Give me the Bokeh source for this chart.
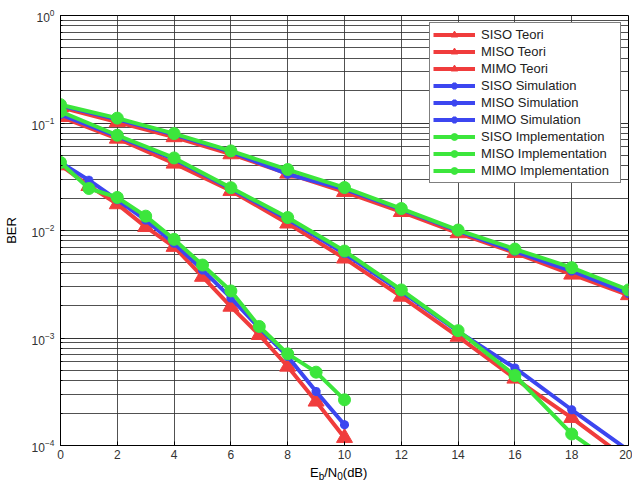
from bokeh.plotting import figure
from bokeh.models import SingleIntervalTicker, LogTicker, Div
from bokeh.layouts import column
from bokeh.embed import file_html
from bokeh.resources import INLINE

# ---------------- data ----------------
snr_even = [0, 2, 4, 6, 8, 10, 12, 14, 16, 18, 20]
snr_mimo = [0, 1, 2, 3, 4, 5, 6, 7, 8, 9, 10]

siso_teori = [0.140, 0.102, 0.074, 0.0513, 0.0339, 0.0229, 0.0149, 0.00946, 0.0062, 0.0039, 0.00251]
miso_teori = [0.114, 0.0717, 0.042, 0.0234, 0.01164, 0.0055, 0.00243, 0.00103, 0.00042, 0.000181, 7.3e-5]
mimo_teori = [0.0405, 0.026, 0.0176, 0.0108, 0.00706, 0.00372, 0.00196, 0.00107, 0.000543, 0.000257, 0.000118]

siso_sim = [0.145, 0.108, 0.078, 0.054, 0.0334, 0.0243, 0.0157, 0.0099, 0.0064, 0.0042, 0.0026]
miso_sim = [0.120, 0.075, 0.046, 0.0245, 0.0127, 0.0061, 0.0027, 0.00115, 0.000527, 0.000215, 9.0e-5]
mimo_sim = [0.043, 0.0294, 0.0193, 0.0125, 0.0076, 0.0043, 0.00236, 0.00124, 0.000672, 0.000318, 0.000156]

siso_impl = [0.148, 0.111, 0.0797, 0.055, 0.0369, 0.0251, 0.016, 0.0101, 0.00672, 0.00451, 0.0028]
miso_impl = [0.128, 0.0769, 0.0473, 0.025, 0.0132, 0.00644, 0.0028, 0.00117, 0.000448, 0.000128, 5.5e-5]
mimo_impl = [0.0429, 0.0246, 0.0203, 0.0136, 0.00827, 0.00477, 0.00274, 0.00128, 0.000712, 0.000481, 0.000266]

labels = ["SISO Teori", "MISO Teori", "MIMO Teori",
          "SISO Simulation", "MISO Simulation", "MIMO Simulation",
          "SISO Implementation", "MISO Implementation", "MIMO Implementation"]

RED = "#f03c3c"
BLUE = "#3c46f0"
GREEN = "#3ce63c"
FONT = "Liberation Sans"

p = figure(width=632, height=464, output_backend="svg", toolbar_location=None,
           y_axis_type="log", x_range=(0, 20), y_range=(1e-4, 1.0))
p.min_border_left = 57
p.min_border_right = 4
p.min_border_top = 15
p.min_border_bottom = 19
p.background_fill_color = "white"
p.border_fill_color = "white"
p.outline_line_color = "black"
p.outline_line_width = 1

series = [
    (snr_even, siso_teori, RED, "triangle", labels[0]),
    (snr_even, miso_teori, RED, "triangle", labels[1]),
    (snr_mimo, mimo_teori, RED, "triangle", labels[2]),
    (snr_even, siso_sim, BLUE, "asterisk", labels[3]),
    (snr_even, miso_sim, BLUE, "asterisk", labels[4]),
    (snr_mimo, mimo_sim, BLUE, "asterisk", labels[5]),
    (snr_even, siso_impl, GREEN, "circle", labels[6]),
    (snr_even, miso_impl, GREEN, "circle", labels[7]),
    (snr_mimo, mimo_impl, GREEN, "circle", labels[8]),
]

for xs, ys, col, mk, lab in series:
    p.line(xs, ys, line_color=col, line_width=4, legend_label=lab)
    if mk == "triangle":
        p.scatter(xs, ys, marker="triangle", size=16, fill_color=col, line_color=col, legend_label=lab)
    elif mk == "asterisk":
        p.scatter(xs, ys, marker="asterisk", size=9, line_color=col, line_width=3, legend_label=lab)
    else:
        p.scatter(xs, ys, marker="circle", size=12, fill_color=col, line_color=col, legend_label=lab)

# axes
p.xaxis.ticker = SingleIntervalTicker(interval=2, num_minor_ticks=0)
p.yaxis.ticker = LogTicker(desired_num_ticks=5, num_minor_ticks=10)
for ax in (p.xaxis[0], p.yaxis[0]):
    ax.axis_line_color = "black"
    ax.major_tick_in = 4
    ax.major_tick_out = 0
    ax.minor_tick_in = 2
    ax.minor_tick_out = 0
    ax.major_tick_line_color = "black"
    ax.minor_tick_line_color = "black"
    ax.major_label_text_font = FONT
    ax.major_label_text_font_size = "12px"
    ax.major_label_text_color = "#333333"
    ax.major_label_standoff = 6
p.xaxis.major_label_standoff = 4
p.yaxis.axis_label = "BER"
p.yaxis.axis_label_text_font = FONT
p.yaxis.axis_label_text_font_size = "13px"
p.yaxis.axis_label_text_font_style = "normal"
p.yaxis.axis_label_text_color = "black"
p.yaxis.axis_label_standoff = 10

# grid
p.xgrid.grid_line_color = "#333333"
p.xgrid.grid_line_alpha = 0.85
p.ygrid.grid_line_color = "#333333"
p.ygrid.grid_line_alpha = 0.85
p.ygrid.minor_grid_line_color = "#333333"
p.ygrid.minor_grid_line_alpha = 0.85

# legend
lg = p.legend[0]
lg.location = "top_right"
lg.margin = 7
lg.padding = 3
lg.spacing = 0
lg.label_height = 17
lg.glyph_height = 17
lg.glyph_width = 42
lg.label_standoff = 6
lg.label_width = 136
lg.label_text_font = FONT
lg.label_text_font_size = "13px"
lg.label_text_color = "#222222"
lg.border_line_color = "black"
lg.border_line_width = 1
lg.background_fill_alpha = 1.0

# x-axis label with subscripts: E_b/N_0(dB)
sub = "font-size:10px;position:relative;top:3px;"
xlabel = Div(
    text=('<div style="padding-left:310px;font-family:\'Liberation Sans\';font-size:13px;'
          'line-height:17px;color:black;white-space:nowrap;">'
          'E<span style="' + sub + '">b</span>/N<span style="' + sub + '">0</span>(dB)</div>'),
    width=632, height=17, margin=(0, 0, 0, 0))

layout = column(p, xlabel, spacing=0)
open("out.html", "w").write(file_html(layout, INLINE))
